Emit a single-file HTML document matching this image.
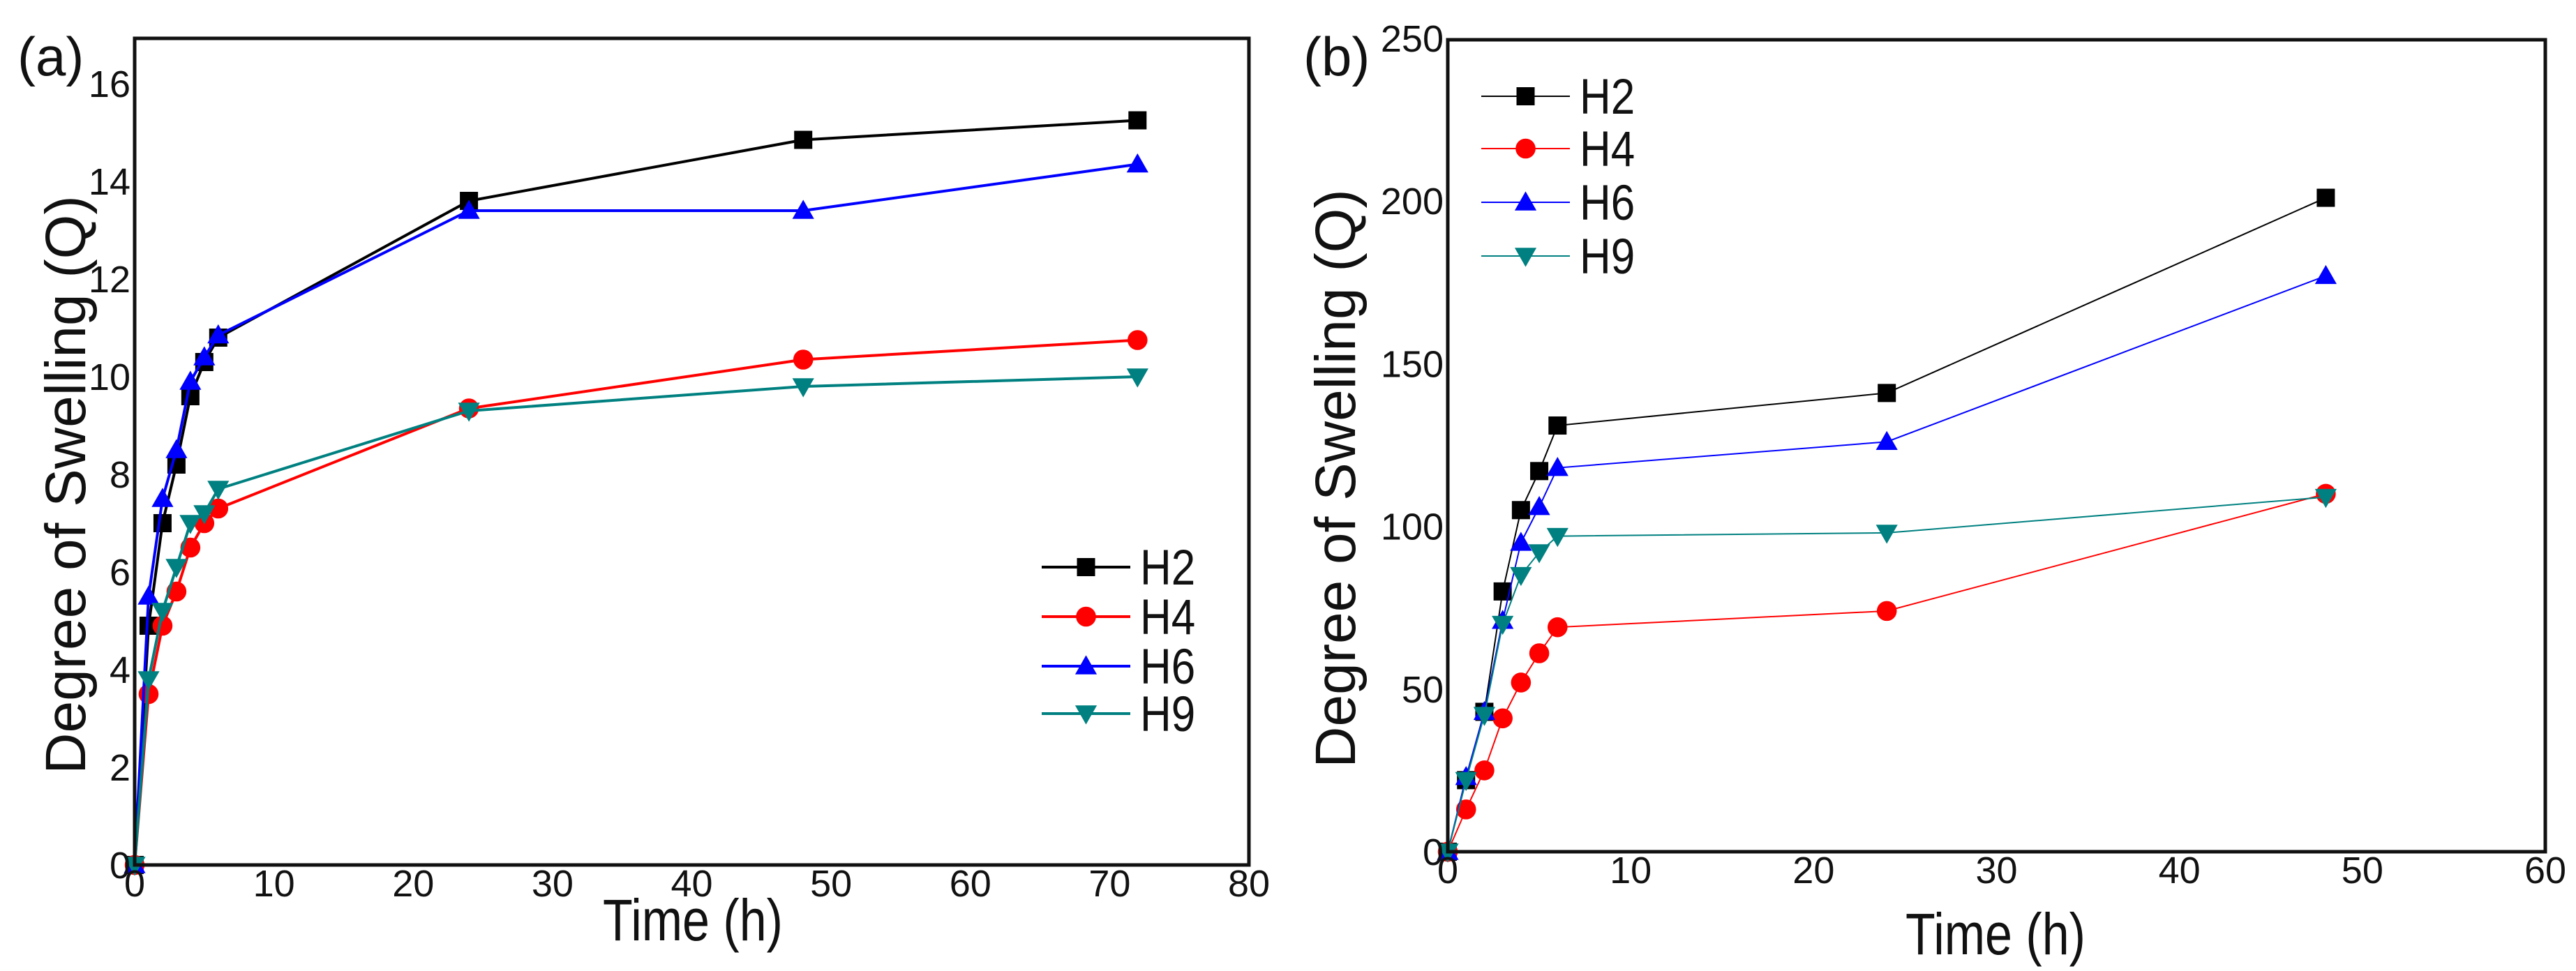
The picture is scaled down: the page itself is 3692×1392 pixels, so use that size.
<!DOCTYPE html>
<html><head><meta charset="utf-8"><style>
html,body{margin:0;padding:0;background:#fff;}
svg{display:block;font-family:"Liberation Sans",Arial,sans-serif;}
</style></head><body>
<svg id="c" width="3692" height="1392" viewBox="0 0 3692 1392"></svg>
<script>
const timesA = [0,1,2,3,4,5,6,24,48,72];
const h2A = [0,4.9,7.0,8.2,9.6,10.3,10.8,13.6,14.85,15.25];
const h4A = [0,3.5,4.9,5.6,6.5,7.0,7.3,9.35,10.35,10.75];
const h6A = [0,5.5,7.5,8.5,9.9,10.4,10.85,13.4,13.4,14.35];
const h9A = [0,3.8,5.2,6.1,7.0,7.2,7.7,9.3,9.8,10.0];
const timesB = [0,1,2,3,4,5,6,24,48];
const h2B = [0,22,43,80,105,117,131,141,201];
const h4B = [0,13,25,41,52,61,69,74,110];
const h6B = [0,23,43,71,95,106,118,126,177];
const h9B = [0,22,42,70,85,92,97,98,109];
const xTicksA = [0,10,20,30,40,50,60,70,80];
const yTicksA = [0,2,4,6,8,10,12,14,16];
const xTicksB = [0,10,20,30,40,50,60];
const yTicksB = [0,50,100,150,200,250];
const seriesNames = ["H2","H4","H6","H9"];
const NS="http://www.w3.org/2000/svg";
const svg=document.getElementById('c');
function mk(tag,attrs,parent){const e=document.createElementNS(NS,tag);for(const k in attrs)e.setAttribute(k,attrs[k]);(parent||svg).appendChild(e);return e;}
function txt(s,attrs,parent){const e=mk('text',attrs,parent);e.textContent=s;return e;}
function marker(g,kind,cx,cy,r,color){
  let e;
  if(kind==='sq')e=mk('rect',{x:cx-r,y:cy-r,width:2*r,height:2*r,fill:color},g);
  else if(kind==='ci')e=mk('circle',{cx:cx,cy:cy,r:r*1.1,fill:color},g);
  else if(kind==='up')e=mk('polygon',{points:`${cx},${cy-r*1.2} ${cx-r*1.2},${cy+r*0.9} ${cx+r*1.2},${cy+r*0.9}`,fill:color},g);
  else e=mk('polygon',{points:`${cx},${cy+r*1.2} ${cx-r*1.2},${cy-r*0.9} ${cx+r*1.2},${cy-r*0.9}`,fill:color},g);
  return e;
}
const colors=["#000000","#ff0000","#0000ff","#008080"];
const kinds=["sq","ci","up","dn"];
function panel(cfg){
  const g=mk('g',{});
  
  
  const X=v=>cfg.x0+(v-cfg.xmin)/(cfg.xmax-cfg.xmin)*(cfg.x1-cfg.x0);
  const Y=v=>cfg.yb-(v-cfg.ymin)/(cfg.ymax-cfg.ymin)*(cfg.yb-cfg.yt);
  cfg.series.forEach((s,i)=>{
    const sg=mk('g',{},g);
    
    
    const pts=cfg.times.map((t,j)=>X(t)+','+Y(s[j])).join(' ');
    mk('polyline',{points:pts,fill:'none',stroke:colors[i],'stroke-width':cfg.lw},sg);
    cfg.times.forEach((t,j)=>{const m=marker(sg,kinds[i],X(t),Y(s[j]),cfg.mr,colors[i]);
      
      });
  });
  const frame=mk('rect',{x:cfg.x0,y:cfg.ytop,width:cfg.x1-cfg.x0,height:cfg.yb-cfg.ytop,fill:'none',stroke:'#111','stroke-width':5},g);
  
  
  cfg.xticks.forEach(v=>{const t=txt(String(v),{x:X(v),y:cfg.yb+45,'font-size':54,'text-anchor':'middle',fill:'#111'},g);
    
    });
  cfg.yticks.forEach(v=>{const t=txt(String(v),{x:cfg.x0-6,y:Y(v)+19,'font-size':54,'text-anchor':'end',fill:'#111'},g);
    
    });
  const xt=txt('Time (h)',{x:0,y:0,'font-size':70,'text-anchor':'middle',fill:'#111',transform:`translate(${cfg.xtx},${cfg.xty}) scale(1,1.2)`},g);
  
  
  const yt=txt('Degree of Swelling (Q)',{x:0,y:0,'font-size':82,'text-anchor':'middle',fill:'#111',transform:`translate(${cfg.ytx},${cfg.yty}) rotate(-90)`},g);
  
  
  const pl=txt(cfg.label,{x:cfg.lx,y:108,'font-size':78,fill:'#111'},g);
  
  
  const lg=mk('g',{},g);
  
  
  cfg.legY.forEach((yy,i)=>{
    const e=mk('g',{},lg);
    
    
    mk('line',{x1:cfg.legX0,x2:cfg.legX1,y1:yy,y2:yy,stroke:colors[i],'stroke-width':cfg.lw},e);
    marker(e,kinds[i],(cfg.legX0+cfg.legX1)/2,yy,cfg.mr,colors[i]);
    txt(seriesNames[i],{x:0,y:0,'font-size':62,fill:'#111',transform:`translate(${cfg.legX1+14},${yy+25}) scale(1,1.15)`},e);
  });
}
panel({name:'panel-a',x0:193,x1:1790,xmin:0,xmax:80,yb:1240,ytop:55,yt:120,ymin:0,ymax:16,
  times:timesA,series:[h2A,h4A,h6A,h9A],xticks:xTicksA,yticks:yTicksA,lw:4,mr:13,
  xtx:993,xty:1348,ytx:122,yty:695,label:'(a)',lx:25,
  legX0:1493,legX1:1620,legY:[813,884,955,1023]});
panel({name:'panel-b',x0:2075,x1:3648,xmin:0,xmax:60,yb:1221,ytop:57,yt:55,ymin:0,ymax:250,
  times:timesB,series:[h2B,h4B,h6B,h9B],xticks:xTicksB,yticks:yTicksB,lw:2,mr:13,
  xtx:2860,xty:1368,ytx:1942,yty:686,label:'(b)',lx:1868,
  legX0:2123,legX1:2250,legY:[138,213,290,367]});
</script>
</body></html>
